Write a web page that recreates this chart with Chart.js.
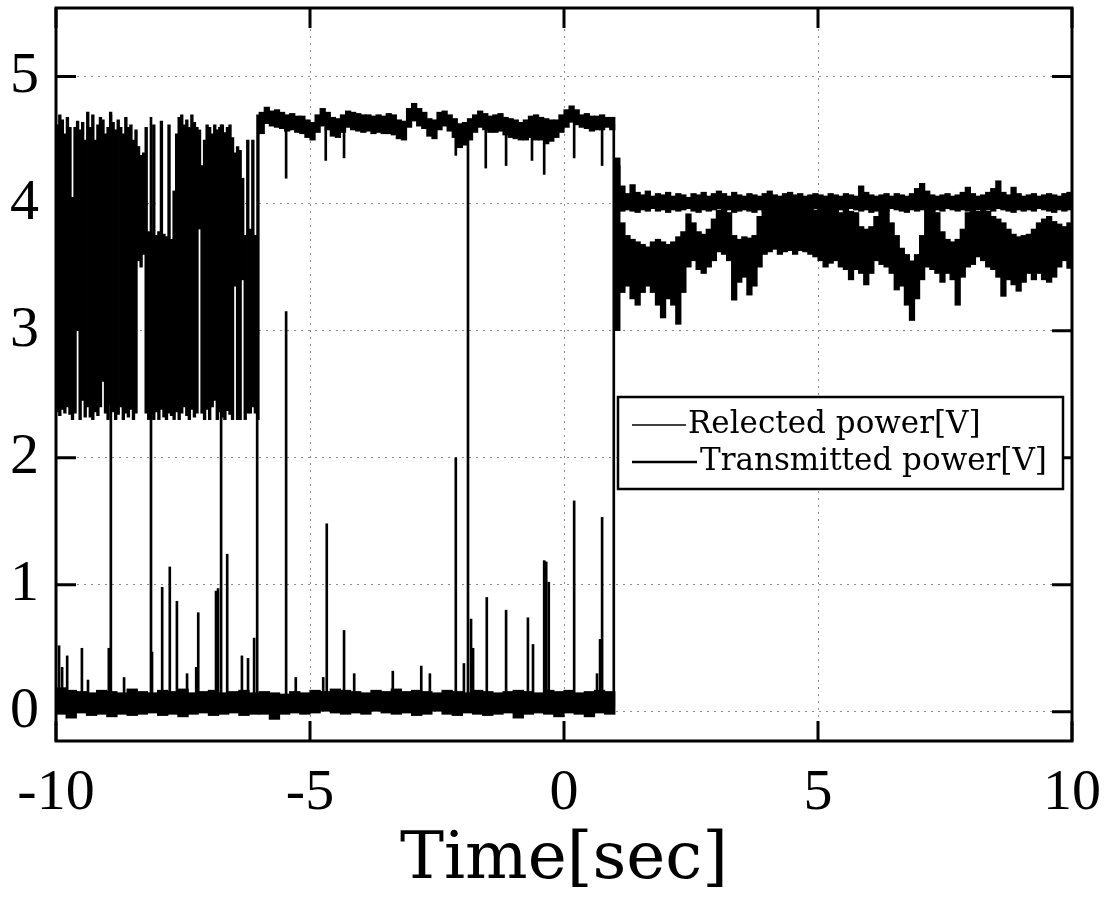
<!DOCTYPE html>
<html><head><meta charset="utf-8">
<script src="https://cdn.jsdelivr.net/npm/chart.js@4.4.1/dist/chart.umd.min.js"></script>
<style>html,body{margin:0;padding:0;background:#fff;}#wrap{width:1104px;height:913px;position:relative;}</style>
</head><body><div id="wrap"><canvas id="c"></canvas></div>
<script>
// ---- axes ----
const xTicks = [-10, -5, 0, 5, 10];
const yTicks = [0, 1, 2, 3, 4, 5];
const xRange = [-10, 10];
const yRange = [-0.23, 5.54];
const seriesLabels = ['Relected power[V]', 'Transmitted power[V]'];
const axisTitle = 'Time[sec]';

// Dense oscilloscope traces, read as min/max per time bin.
// ---- Transmitted power, unstable burst: bins of 0.05 s centred -9.975 .. -6.025 ----
const transBurstT0 = -9.975, transBurstDt = 0.05;
const transBurstHi = [
 4.62,4.7,4.66,4.55,4.68,4.6,4.05,4.6,  4.65,4.58,4.64,4.5,4.72,4.6,4.7,4.5,
 4.62,4.68,4.66,4.55,4.6,4.72,4.64,4.58, 4.66,4.6,4.55,4.68,4.6,4.62,4.5,4.58,
 4.45,4.38,4.4,4.6,3.78,3.76,4.62,3.75, 3.78,4.65,3.76,3.74,4.62,3.72,4.1,4.55,
 4.68,4.7,4.62,4.66,4.6,4.7,4.64,4.6,   4.58,4.3,4.5,4.62,4.6,4.55,4.62,4.58,
 4.6,4.62,4.56,4.6,4.62,4.52,4.4,4.45,  4.42,4.2,3.75,4.5,3.8,4.5,3.75,4.7
];
const transBurstLo = [
 2.36,2.33,2.38,2.35,2.4,2.34,2.3,2.35,  3.0,2.3,2.45,2.32,2.4,2.32,2.3,2.36,
 2.33,2.4,2.6,2.35,2.3,2.42,2.36,2.3,    2.34,2.4,2.3,2.35,2.32,2.38,2.3,2.35,
 3.55,3.5,3.6,2.35,2.3,2.34,2.3,2.36,    2.3,2.38,2.32,2.3,2.35,2.33,2.3,2.36,
 2.3,2.35,2.4,2.33,2.3,2.38,2.32,2.35,   3.8,2.35,2.3,2.38,2.3,2.4,2.45,2.3,
 2.36,2.32,2.3,2.37,2.34,2.3,3.35,2.3,   2.3,3.4,2.3,2.35,2.35,2.4,2.35,2.3
];
// ---- Transmitted power, plateau: bins of 0.1 s centred -5.95 .. 0.95 ----
const transPlateauT0 = -5.95, transPlateauDt = 0.1;
const transPlateauHi = [
 4.72,4.76,4.73,4.74,4.72,4.7,4.71,4.69,4.69,4.66,
 4.64,4.7,4.75,4.72,4.68,4.67,4.7,4.73,4.72,4.71,
 4.7,4.7,4.69,4.7,4.69,4.71,4.7,4.66,4.65,4.75,
 4.79,4.75,4.72,4.67,4.66,4.72,4.73,4.7,4.67,4.63,
 4.64,4.67,4.7,4.73,4.71,4.69,4.7,4.71,4.68,4.67,
 4.66,4.64,4.66,4.69,4.7,4.68,4.67,4.66,4.66,4.7,
 4.74,4.77,4.74,4.7,4.71,4.69,4.69,4.7,4.68,4.68
];
const transPlateauLo = [
 4.55,4.63,4.61,4.6,4.59,4.57,4.58,4.56,4.55,4.52,
 4.5,4.56,4.61,4.58,4.53,4.52,4.56,4.6,4.58,4.57,
 4.56,4.57,4.55,4.56,4.55,4.55,4.54,4.51,4.5,4.6,
 4.65,4.61,4.59,4.53,4.51,4.58,4.61,4.57,4.52,4.44,
 4.46,4.5,4.56,4.6,4.58,4.56,4.56,4.57,4.54,4.52,
 4.51,4.5,4.5,4.52,4.5,4.5,4.47,4.49,4.52,4.56,
 4.6,4.64,4.62,4.6,4.59,4.57,4.58,4.58,4.6,4.58
];
// ---- Transmitted power, after t = 1 s: bins of 0.1 s centred 1.05 .. 9.95 ----
const transAfterT0 = 1.05, transAfterDt = 0.1;
const transAfterHi = [
 4.36,4.14,4.08,4.15,4.09,4.07,4.1,4.06,4.08,4.07,
 4.09,4.06,4.08,4.07,4.05,4.08,4.07,4.09,4.06,4.08,
 4.1,4.08,4.06,4.09,4.07,4.06,4.08,4.07,4.06,4.08,
 4.1,4.07,4.06,4.08,4.09,4.07,4.08,4.06,4.07,4.08,
 4.07,4.06,4.08,4.07,4.06,4.08,4.07,4.06,4.14,4.09,
 4.07,4.06,4.07,4.08,4.06,4.08,4.07,4.06,4.08,4.12,
 4.16,4.1,4.07,4.06,4.07,4.08,4.06,4.07,4.09,4.13,
 4.08,4.06,4.07,4.09,4.12,4.18,4.09,4.07,4.13,4.08,
 4.06,4.07,4.08,4.06,4.07,4.08,4.07,4.06,4.08,4.09
];
const transAfterLo = [
 3.96,3.94,3.95,3.94,3.93,3.95,3.94,3.96,3.94,3.95,
 3.93,3.95,3.94,3.95,3.96,3.94,3.93,3.95,3.94,3.95,
 3.96,3.94,3.95,3.93,3.94,3.95,3.94,3.93,3.95,3.94,
 3.95,3.94,3.96,3.94,3.95,3.93,3.94,3.95,3.94,3.96,
 3.94,3.95,3.93,3.94,3.95,3.94,3.96,3.95,3.94,3.95,
 3.93,3.94,3.95,3.94,3.96,3.95,3.94,3.93,3.95,3.94,
 3.95,3.94,3.93,3.95,3.94,3.96,3.95,3.94,3.95,3.94,
 3.93,3.95,3.94,3.95,3.94,3.96,3.95,3.94,3.93,3.95,
 3.94,3.95,3.94,3.96,3.95,3.94,3.93,3.95,3.94,3.95
];
// ---- Reflected power, before t = 1 s: bins of 0.2 s centred -9.9 .. 0.9 ----
const reflBaseT0 = -9.9, reflBaseDt = 0.2;
const reflBaseHi = [
 0.19,0.17,0.16,0.15,0.17,0.16,0.15,0.18,0.16,0.15,
 0.17,0.16,0.18,0.15,0.16,0.17,0.15,0.16,0.17,0.15,
 0.16,0.15,0.14,0.16,0.15,0.17,0.16,0.18,0.17,0.16,
 0.15,0.17,0.16,0.18,0.16,0.17,0.16,0.15,0.17,0.16,
 0.15,0.17,0.16,0.15,0.16,0.17,0.16,0.15,0.17,0.16,
 0.17,0.15,0.16,0.17,0.16
];
const reflBaseLo = [
 -0.02,-0.05,-0.01,-0.03,-0.02,-0.04,-0.02,-0.03,-0.02,-0.01,
 -0.03,-0.02,-0.04,-0.02,-0.01,-0.03,-0.02,-0.01,-0.03,-0.02,
 -0.02,-0.06,-0.02,-0.01,-0.02,-0.01,0.0,-0.01,-0.02,-0.01,
 -0.02,0.0,-0.01,-0.02,-0.01,-0.03,-0.02,0.0,-0.02,-0.03,
 -0.01,-0.02,-0.03,-0.02,-0.01,-0.05,-0.02,-0.01,-0.02,-0.04,
 -0.01,-0.02,-0.04,-0.01,-0.02
];
// ---- Reflected power, after t = 1 s: bins of 0.1 s centred 1.05 .. 9.95 ----
const reflAfterT0 = 1.05, reflAfterDt = 0.1;
const reflAfterHi = [
 4.3,3.85,3.75,3.72,3.7,3.68,3.66,3.7,3.72,3.7,
 3.68,3.7,3.74,3.78,3.92,3.85,3.78,3.76,3.8,3.88,
 3.95,3.96,3.93,3.75,3.72,3.74,3.73,3.75,3.9,3.96,
 3.96,3.95,3.96,3.95,3.96,3.95,3.96,3.95,3.96,3.95,
 3.96,3.95,3.94,3.95,3.93,3.95,3.94,3.93,3.82,3.8,
 3.82,3.9,3.95,3.95,3.85,3.75,3.65,3.6,3.55,3.6,
 3.75,3.94,3.95,3.93,3.78,3.72,3.7,3.72,3.8,3.93,
 3.95,3.94,3.95,3.94,3.9,3.88,3.85,3.8,3.76,3.74,
 3.75,3.76,3.8,3.85,3.88,3.9,3.86,3.84,3.82,3.85
];
const reflAfterLo = [
 3.0,3.3,3.35,3.25,3.2,3.3,3.35,3.3,3.2,3.1,
 3.25,3.2,3.05,3.3,3.5,3.55,3.48,3.45,3.5,3.55,
 3.62,3.6,3.55,3.24,3.38,3.42,3.28,3.35,3.5,3.6,
 3.62,3.64,3.6,3.62,3.63,3.6,3.63,3.62,3.6,3.58,
 3.55,3.5,3.53,3.55,3.5,3.48,3.4,3.48,3.45,3.36,
 3.45,3.55,3.52,3.5,3.45,3.32,3.35,3.2,3.08,3.25,
 3.4,3.5,3.48,3.45,3.38,3.45,3.4,3.2,3.42,3.5,
 3.52,3.58,3.55,3.5,3.48,3.42,3.27,3.4,3.36,3.31,
 3.38,3.45,3.4,3.45,3.4,3.38,3.42,3.5,3.55,3.49
];
// ---- Reflected power: isolated spikes (floor -> peak) ----
const reflFloor = 0.08;
const reflSpikeT = [-9.94,-9.88,-9.78,-9.49,-9.37,-8.96,-8.66,-8.11,-7.91,-7.76,-7.62,-7.42,-7.24,-7.2,-6.85,-6.81,-6.63,-6.34,-6.22,-6.1,-5.47,-5.28,-4.74,-4.67,-4.33,-4.13,-3.37,-2.81,-2.64,-2.13,-1.97,-1.83,-1.79,-1.52,-1.14,-0.71,-0.61,-0.39,-0.35,-0.3,0.2,0.65,0.71,0.75];
const reflSpikeV = [0.52,0.35,0.44,0.5,0.25,0.5,0.27,0.47,0.98,1.14,0.87,0.3,0.35,0.78,0.95,0.97,1.24,0.44,0.42,0.58,3.15,0.27,0.27,1.48,0.64,0.3,0.32,0.36,0.3,2.0,0.38,0.73,0.5,0.9,0.8,0.74,0.53,1.19,1.18,1.02,1.66,0.3,0.57,1.53];
// ---- Transmitted power: drop-outs (from -> to) ----
const transDropT    = [-8.92,-8.13,-6.75,-6.04,-5.47,-4.69,-4.33,-2.13,-1.89,-1.54,-1.14,-0.63,-0.39,0.2,0.75,0.98];
const transDropFrom = [4.7,4.68,4.62,2.35,4.6,4.6,4.6,4.58,4.58,4.6,4.58,4.56,4.55,4.64,4.6,4.62];
const transDropTo   = [0.02,0.03,0.02,0.05,4.2,4.34,4.36,4.38,0.03,4.28,4.3,4.34,4.23,4.36,4.3,0.04];

function bins(t0, dt, lo, hi) {
  return lo.map((l, i) => ({ x: Math.round((t0 + i * dt) * 1000) / 1000, y: [l, hi[i]] }));
}
function spans(ts, a, b) {
  return ts.map((t, i) => ({ x: t, y: [Math.min(a[i], b[i]), Math.max(a[i], b[i])] }));
}
const bar = (label, data, w) => ({ label, data, barThickness: w, grouped: false,
  backgroundColor: '#000', borderWidth: 0 });

const framePlugin = {
  id: 'frame',
  afterDatasetsDraw(chart) {
    const { ctx, chartArea: a, scales: { x, y } } = chart;
    ctx.save();
    ctx.strokeStyle = '#000';
    ctx.lineWidth = 3;
    ctx.strokeRect(a.left, a.top, a.right - a.left, a.bottom - a.top);
    const L = 20;
    ctx.beginPath();
    yTicks.forEach(v => { const p = y.getPixelForValue(v);
      ctx.moveTo(a.left, p); ctx.lineTo(a.left + L, p); ctx.moveTo(a.right, p); ctx.lineTo(a.right - L, p); });
    xTicks.forEach(v => { const p = x.getPixelForValue(v);
      ctx.moveTo(p, a.bottom); ctx.lineTo(p, a.bottom - L); ctx.moveTo(p, a.top); ctx.lineTo(p, a.top + L); });
    ctx.stroke();
    // legend box
    const bx = a.right - 454, by = a.top + 389, bw = 445, bh = 92;
    ctx.fillStyle = '#fff'; ctx.fillRect(bx, by, bw, bh);
    ctx.lineWidth = 2.5; ctx.strokeRect(bx, by, bw, bh);
    ctx.font = '31px "DejaVu Serif"'; ctx.fillStyle = '#000';
    ctx.textBaseline = 'middle'; ctx.textAlign = 'left';
    const items = [
      { label: seriesLabels[0], w: 1.5, x1: 68, tx: 70, dy: 28 },
      { label: seriesLabels[1], w: 2.5, x1: 79, tx: 82, dy: 65 }
    ];
    items.forEach(it => {
      ctx.lineWidth = it.w; ctx.beginPath();
      ctx.moveTo(bx + 14, by + it.dy); ctx.lineTo(bx + it.x1, by + it.dy); ctx.stroke();
      ctx.fillText(it.label, bx + it.tx, by + it.dy);
    });
    ctx.restore();
  }
};

new Chart(document.getElementById('c'), {
  type: 'bar',
  data: { datasets: [
    bar(seriesLabels[0], bins(reflBaseT0, reflBaseDt, reflBaseLo, reflBaseHi), 10.7),
    bar(seriesLabels[0], bins(reflAfterT0, reflAfterDt, reflAfterLo, reflAfterHi), 5.6),
    bar(seriesLabels[0], spans(reflSpikeT, reflSpikeT.map(() => reflFloor), reflSpikeV), 2),
    bar(seriesLabels[1], bins(transBurstT0, transBurstDt, transBurstLo, transBurstHi), 2.7),
    bar(seriesLabels[1], bins(transPlateauT0, transPlateauDt, transPlateauLo, transPlateauHi), 5.6),
    bar(seriesLabels[1], bins(transAfterT0, transAfterDt, transAfterLo, transAfterHi), 5.6),
    bar(seriesLabels[1], spans(transDropT, transDropFrom, transDropTo), 2)
  ] },
  options: {
    responsive: true, maintainAspectRatio: false, animation: false,
    layout: { padding: { top: 8, right: 32, left: 0, bottom: 0 } },
    plugins: { legend: { display: false }, tooltip: { enabled: false } },
    scales: {
      x: {
        type: 'linear', min: xRange[0], max: xRange[1], offset: false,
        afterBuildTicks: s => { s.ticks = xTicks.map(v => ({ value: v })); },
        afterFit: s => { s.height = 172; s.paddingLeft = 0; s.paddingRight = 0; },
        ticks: { font: { family: '"Liberation Serif"', size: 58 }, color: '#000', padding: 18,
                 maxRotation: 0, autoSkip: false, callback: v => String(v) },
        grid: { color: '#8c8c8c', lineWidth: 1, drawTicks: false, offset: false },
        border: { display: false, dash: [2, 5] },
        title: { display: true, text: axisTitle, color: '#000',
                 font: { family: '"DejaVu Serif"', size: 66 }, padding: { top: 0, bottom: 13 } }
      },
      y: {
        type: 'linear', min: yRange[0], max: yRange[1], stacked: false,
        afterBuildTicks: s => { s.ticks = yTicks.map(v => ({ value: v })); },
        afterFit: s => { s.width = 56; s.paddingTop = 0; s.paddingBottom = 0; },
        ticks: { font: { family: '"Liberation Serif"', size: 58 }, color: '#000', padding: 17,
                 callback: v => String(v) },
        grid: { color: '#8c8c8c', lineWidth: 1, drawTicks: false },
        border: { display: false, dash: [2, 5] }
      }
    }
  },
  plugins: [framePlugin]
});
</script></body></html>
